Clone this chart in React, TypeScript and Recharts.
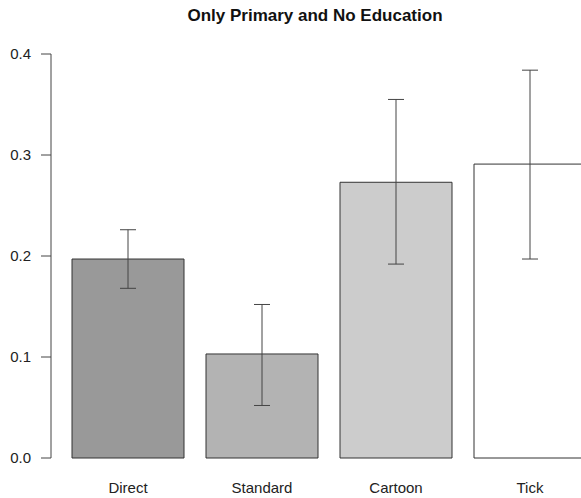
import { BarChart, Bar, XAxis, YAxis, Cell, ErrorBar } from 'recharts';

const categories = ['Direct', 'Standard', 'Cartoon', 'Tick'];
const means = [0.197, 0.103, 0.273, 0.291];
const lower = [0.168, 0.052, 0.192, 0.197];
const upper = [0.226, 0.152, 0.355, 0.384];
const fills = ['#999999', '#b3b3b3', '#cccccc', '#ffffff'];
const yTicks = [0, 0.1, 0.2, 0.3, 0.4];

const data = categories.map((name, i) => ({
  name,
  value: means[i],
  err: [means[i] - lower[i], upper[i] - means[i]],
}));

const font = 'Liberation Sans, Arial, Helvetica, sans-serif';

export default function App() {
  return (
    <div
      style={{
        position: 'absolute',
        left: 0,
        top: 0,
        width: 581,
        height: 498,
        overflow: 'hidden',
        background: '#ffffff',
        fontFamily: font,
      }}
    >
      <div
        style={{
          position: 'absolute',
          left: 115,
          width: 400,
          top: 6,
          textAlign: 'center',
          fontSize: 17,
          fontWeight: 'bold',
          color: '#111',
        }}
      >
        Only Primary and No Education
      </div>
      <BarChart
        width={600}
        height={498}
        data={data}
        margin={{ top: 54, right: 0, bottom: 0, left: 0 }}
        barCategoryGap={11}
      >
        <YAxis
          width={51}
          domain={[0, 0.4]}
          ticks={yTicks}
          tickFormatter={(v: number) => v.toFixed(1)}
          axisLine={{ stroke: '#444' }}
          tickLine={{ stroke: '#444' }}
          tickSize={10}
          tickMargin={10}
          tick={{ fill: '#222', fontSize: 15, fontFamily: font }}
          interval={0}
        />
        <XAxis
          dataKey="name"
          height={40}
          axisLine={false}
          tickLine={false}
          tickSize={0}
          tickMargin={24}
          padding={{ left: 10, right: 3 }}
          tick={{ fill: '#222', fontSize: 15, fontFamily: font }}
          interval={0}
        />
        <Bar dataKey="value" stroke="#333" strokeWidth={1} isAnimationActive={false}>
          {data.map((d, i) => (
            <Cell key={d.name} fill={fills[i]} />
          ))}
          <ErrorBar dataKey="err" width={8} stroke="#444" strokeWidth={1} direction="y" />
        </Bar>
      </BarChart>
    </div>
  );
}
